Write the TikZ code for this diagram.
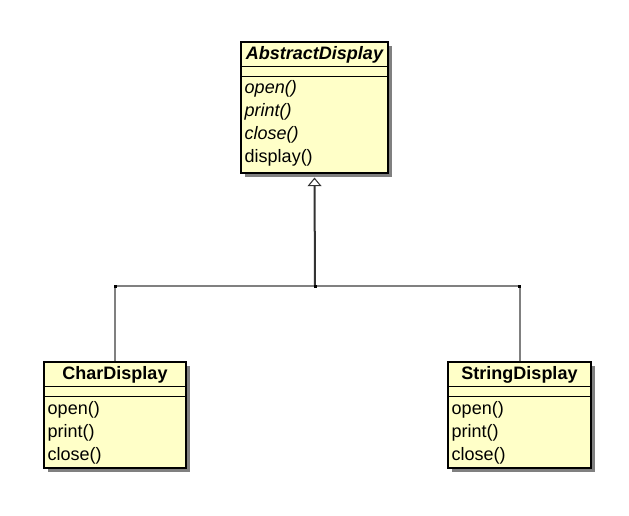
\documentclass[tikz,border=0pt]{standalone}
\usepackage{fontspec}
\setmainfont{Liberation Sans}
\usetikzlibrary{calc, shadows, arrows.meta}
\definecolor{classfill}{RGB}{255, 255, 200}
\definecolor{shadowgray}{RGB}{128, 128, 128}
\definecolor{linkgray}{RGB}{128, 128, 128}
\definecolor{shaftgray}{RGB}{51, 51, 51}
\tikzset{>=latex}

\begin{document}
\begin{tikzpicture}[x=0.75pt, y=-0.75pt,
  classbox/.style = {draw=black, line width=0.8pt, fill=classfill, inner sep=0pt,
    drop shadow={shadow xshift=3pt, shadow yshift=-3pt, fill=shadowgray, opacity=1}},
  classname/.style = {font=\fontsize{13.5}{16}\selectfont\bfseries, inner sep=0pt},
  abstractname/.style = {classname, font=\fontsize{13.5}{16}\selectfont\bfseries\itshape},
  method/.style = {font=\fontsize{13.5}{16}\selectfont, anchor=west, inner sep=0pt},
  abstractmethod/.style = {method, font=\fontsize{13.5}{16}\selectfont\itshape},
  link/.style = {draw=linkgray, line width=1.5pt},
  junction/.style = {fill=black},
]
\useasboundingbox (0,0) rectangle (629,515);

% classes
\node[classbox, minimum width=110.25pt, minimum height=98.25pt] (abs) at (314.5, 107.5) {};
\node[classbox, minimum width=106.5pt, minimum height=79.5pt] (char) at (115, 415) {};
\node[classbox, minimum width=107.25pt, minimum height=79.5pt] (str) at (519.5, 415) {};

% compartments
\draw[line width=0.8pt] ($(abs.north west)+(0,25)$) -- ($(abs.north east)+(0,25)$);
\draw[line width=0.8pt] ($(abs.north west)+(0,35)$) -- ($(abs.north east)+(0,35)$);
\draw[line width=0.8pt] ($(char.north west)+(0,25)$) -- ($(char.north east)+(0,25)$);
\draw[line width=0.8pt] ($(char.north west)+(0,35)$) -- ($(char.north east)+(0,35)$);
\draw[line width=0.8pt] ($(str.north west)+(0,25)$) -- ($(str.north east)+(0,25)$);
\draw[line width=0.8pt] ($(str.north west)+(0,35)$) -- ($(str.north east)+(0,35)$);

% AbstractDisplay
\node[abstractname] (abs-name) at ($(abs.north)+(0,13)$) {AbstractDisplay};
\node[abstractmethod] (abs-open) at ($(abs.north west)+(4,47.5)$) {open()};
\node[abstractmethod] (abs-print) at ($(abs.north west)+(4,70.5)$) {print()};
\node[abstractmethod] (abs-close) at ($(abs.north west)+(4,93.5)$) {close()};
\node[method] (abs-display) at ($(abs.north west)+(4,116.5)$) {display()};

% CharDisplay
\node[classname] (char-name) at ($(char.north)+(0,13)$) {CharDisplay};
\node[method] (char-open) at ($(char.north west)+(4,48.5)$) {open()};
\node[method] (char-print) at ($(char.north west)+(4,71.5)$) {print()};
\node[method] (char-close) at ($(char.north west)+(4,94.5)$) {close()};

% StringDisplay
\node[classname] (str-name) at ($(str.north)+(0,13)$) {StringDisplay};
\node[method] (str-open) at ($(str.north west)+(4,48.5)$) {open()};
\node[method] (str-print) at ($(str.north west)+(4,71.5)$) {print()};
\node[method] (str-close) at ($(str.north west)+(4,94.5)$) {close()};

% generalization
\coordinate (hub) at (315, 286);
\coordinate (char-joint) at (char.north |- hub);
\coordinate (str-joint) at (str.north |- hub);
\draw[link] (char-joint) -- (str-joint);
\draw[link] (char.north) -- (char-joint);
\draw[link] (str.north) -- (str-joint);
\draw[draw=shaftgray, line width=1.5pt,
  -{Triangle[open, width=10.5pt, length=6.5pt, line width=0.8pt]}]
  (hub) -- ($(abs.south)+(0,4)$);
\fill[junction] ($(char-joint)+(-1.5,-1.5)$) rectangle ++(3,3);
\fill[junction] ($(hub)+(-1.5,-1.5)$) rectangle ++(3,3);
\fill[junction] ($(str-joint)+(-1.5,-1.5)$) rectangle ++(3,3);
\end{tikzpicture}
\end{document}
